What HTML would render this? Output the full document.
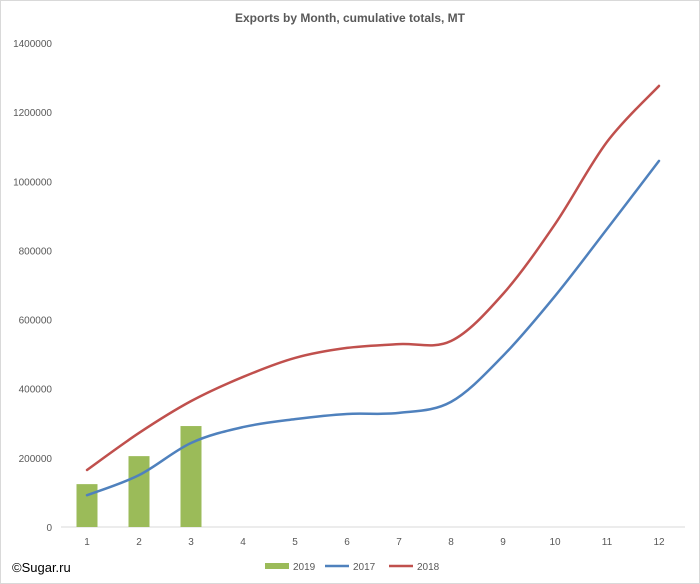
<!DOCTYPE html>
<html><head><meta charset="utf-8"><style>
body{margin:0;background:#fff;}
svg{display:block;font-family:"Liberation Sans",sans-serif;}
</style></head><body>
<svg id="c" width="700" height="584">
<rect x="0.5" y="0.5" width="699" height="583" fill="#fff" stroke="#d9d9d9"/>
<text x="350" y="22" text-anchor="middle" font-size="12" font-weight="bold" fill="#595959">Exports by Month, cumulative totals, MT</text>
<text x="12" y="572" font-size="13" fill="#000">©Sugar.ru</text>
<g id="g"></g>
</svg>
<script>
const months=[1,2,3,4,5,6,7,8,9,10,11,12];
const s2019=[124000,205000,292000];
const s2017=[92000,150000,243000,289000,312000,327000,330000,362000,495000,668000,862000,1059000];
const s2018=[165000,272000,364000,434000,489000,518000,529000,538000,674000,876000,1114000,1276000];
const yTicks=[0,200000,400000,600000,800000,1000000,1200000,1400000];
const ns="http://www.w3.org/2000/svg";
const g=document.getElementById('g');
const X=m=>87+(m-1)*52;
const Y=v=>527-v*(484/1400000);
function mk(t,a,p){const e=document.createElementNS(ns,t);for(const k in a)e.setAttribute(k,a[k]);(p||g).appendChild(e);return e;}
yTicks.forEach(v=>{const t=mk('text',{x:52,y:Y(v)+4,'text-anchor':'end','font-size':10,fill:'#595959'});t.textContent=v;

});
const ax=mk('line',{x1:61,x2:685,y1:527,y2:527,stroke:'#d9d9d9'});


months.forEach(m=>{const t=mk('text',{x:X(m),y:545,'text-anchor':'middle','font-size':10,fill:'#595959'});t.textContent=m;

});
s2019.forEach((v,i)=>{const r=mk('rect',{x:X(months[i])-10.5,y:Y(v),width:21,height:527-Y(v),fill:'#9bbb59'});

});
function smooth(pts){let d='M'+pts[0][0]+','+pts[0][1];const t=1/6;
for(let i=0;i<pts.length-1;i++){const p0=pts[i-1]||pts[i],p1=pts[i],p2=pts[i+1],p3=pts[i+2]||p2;
d+=' C'+(p1[0]+(p2[0]-p0[0])*t)+','+(p1[1]+(p2[1]-p0[1])*t)+' '+(p2[0]-(p3[0]-p1[0])*t)+','+(p2[1]-(p3[1]-p1[1])*t)+' '+p2[0]+','+p2[1];}
return d;}
function line(arr,col,name){const p=mk('path',{d:smooth(arr.map((v,i)=>[X(months[i]),Y(v)])),fill:'none',stroke:col,'stroke-width':2.5,'stroke-linecap':'round'});

}
line(s2017,'#4f81bd','line-2017');
line(s2018,'#c0504d','line-2018');
const leg=[['2019','#9bbb59',265,true],['2017','#4f81bd',325,false],['2018','#c0504d',389,false]];
leg.forEach(l=>{const gg=mk('g',{});


if(l[3])mk('rect',{x:l[2],y:563,width:24,height:6,fill:l[1]},gg);else mk('line',{x1:l[2],x2:l[2]+24,y1:566,y2:566,stroke:l[1],'stroke-width':2.5},gg);
const t=mk('text',{x:l[2]+28,y:570,'font-size':10,fill:'#595959'},gg);t.textContent=l[0];});
</script>
</body></html>
